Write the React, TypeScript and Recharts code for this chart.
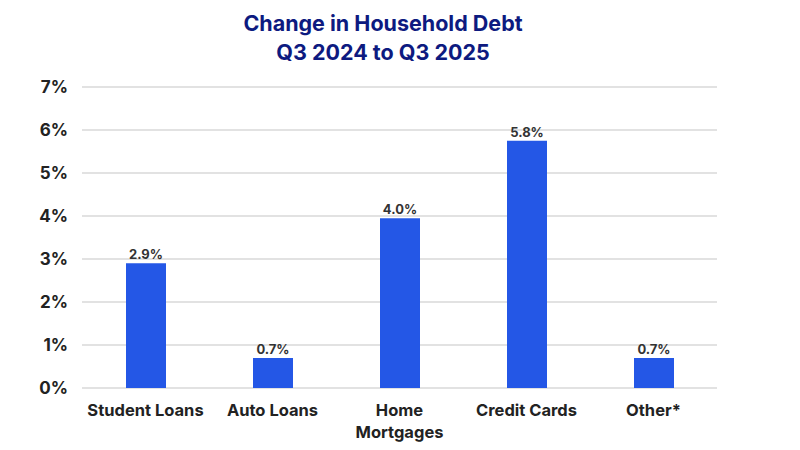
import { BarChart, Bar, XAxis, YAxis, CartesianGrid, LabelList } from 'recharts';

const categories = ['Student Loans', 'Auto Loans', 'Home Mortgages', 'Credit Cards', 'Other*'];
const changePct = [2.9, 0.7, 3.95, 5.75, 0.7];
const valueLabels = ['2.9%', '0.7%', '4.0%', '5.8%', '0.7%'];
const yTicks = [0, 1, 2, 3, 4, 5, 6, 7];
const tickLines: Record<string, string[]> = {
  'Home Mortgages': ['Home', 'Mortgages'],
};

const data = categories.map((name, i) => ({ name, value: changePct[i], label: valueLabels[i] }));

const FONT = 'Inter, "Noto Sans", sans-serif';

function CategoryTick({ x, y, payload }: any) {
  const lines = tickLines[payload.value] || [payload.value];
  return (
    <text x={x} y={y} textAnchor="middle" fill="#222" fontSize={16.5} fontWeight={700} fontFamily={FONT}>
      {lines.map((line, i) => (
        <tspan key={i} x={x} dy={i === 0 ? 20 : 22}>
          {line}
        </tspan>
      ))}
    </text>
  );
}

export default function App() {
  return (
    <div style={{ position: 'absolute', left: 0, top: 0, width: 800, height: 450, background: '#fff' }}>
      <div
        style={{
          position: 'absolute',
          left: 0,
          top: 9,
          width: 766,
          textAlign: 'center',
          color: '#0d1a80',
          fontFamily: FONT,
          fontWeight: 700,
          fontSize: 21.5,
          lineHeight: '29px',
        }}
      >
        Change in Household Debt
        <br />
        Q3 2024 to Q3 2025
      </div>
      <BarChart
        width={800}
        height={450}
        data={data}
        margin={{ top: 87, right: 83, bottom: 12, left: 0 }}
        barSize={40}
      >
        <CartesianGrid vertical={false} stroke="#d9d9d9" strokeWidth={1.5} />
        <XAxis
          dataKey="name"
          axisLine={false}
          tickLine={false}
          height={50}
          interval={0}
          tick={<CategoryTick />}
        />
        <YAxis
          domain={[0, 7]}
          ticks={yTicks}
          width={82}
          axisLine={false}
          tickLine={false}
          tickFormatter={(v: number) => `${v}%`}
          tick={{ fill: '#222', fontSize: 17, fontWeight: 700, fontFamily: FONT, dx: -6 }}
        />
        <Bar dataKey="value" fill="#2457e6" isAnimationActive={false}>
          <LabelList
            dataKey="label"
            position="top"
            offset={4}
            fill="#333"
            fontSize={13}
            fontWeight={700}
            fontFamily={FONT}
          />
        </Bar>
      </BarChart>
    </div>
  );
}
